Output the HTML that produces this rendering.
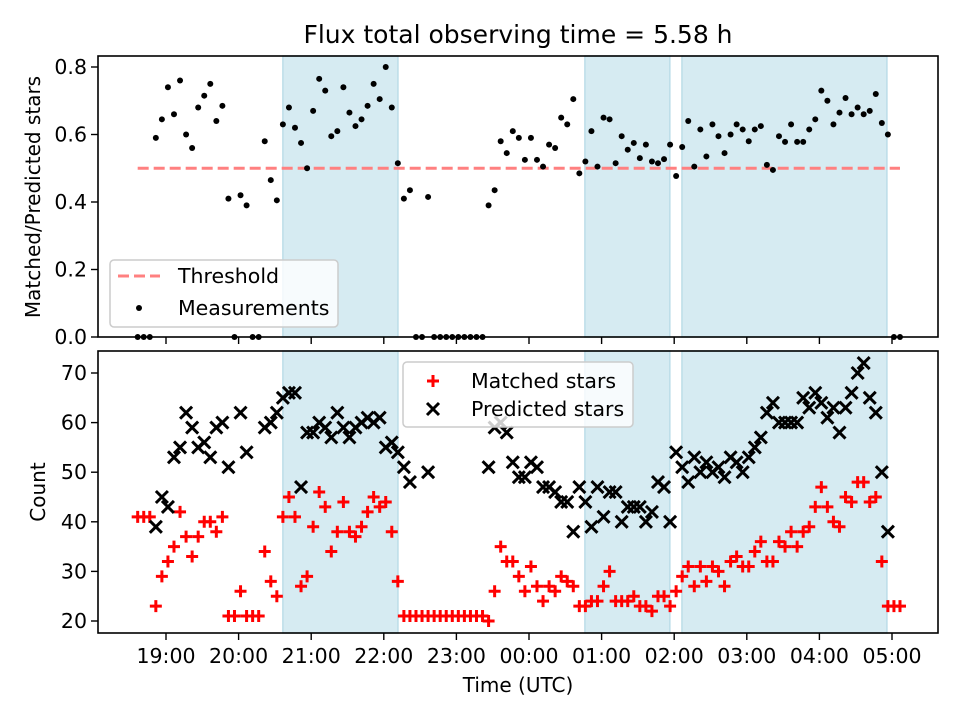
<!DOCTYPE html>
<html><head><meta charset="utf-8"><style>
html,body{margin:0;padding:0;background:#fff;}
svg{display:block;font-family:"DejaVu Sans","Liberation Sans",sans-serif;}
</style></head><body>
<svg id="chart" width="960" height="720" viewBox="0 0 960 720" xmlns="http://www.w3.org/2000/svg">
<rect x="0" y="0" width="960" height="720" fill="#fff"/>
<text x="518" y="43" font-size="25" text-anchor="middle">Flux total observing time = 5.58 h</text>
<g id="top"></g>
<g id="bot"></g>
<text transform="translate(40,197) rotate(-90)" font-size="20" text-anchor="middle">Matched/Predicted stars</text>
<text transform="translate(45,492) rotate(-90)" font-size="20" text-anchor="middle">Count</text>
<text x="518" y="692" font-size="20" text-anchor="middle">Time (UTC)</text>
</svg>
<script>
// time grid: start minutes after 18:00, step minutes
const startMin = 36.6;
const stepMin = 5;
const ratio = [0,0,0,0.59,0.645,0.74,0.66,0.76,0.60,0.56,0.68,0.715,0.75,0.64,0.685,0.41,0,0.42,0.39,0,0,0.58,0.465,0.405,0.63,0.68,0.62,0.575,0.50,0.67,0.765,0.73,0.595,0.61,0.74,0.665,0.625,0.645,0.685,0.75,0.705,0.80,0.68,0.515,0.41,0.435,0,0,0.415,0,0,0,0,0,0,0,0,0,0.39,0.435,0.58,0.545,0.61,0.59,0.525,0.59,0.525,0.505,0.57,0.56,0.65,0.63,0.705,0.485,0.52,0.61,0.505,0.65,0.645,0.515,0.595,0.555,0.575,0.53,0.57,0.52,0.515,0.527,0.57,0.477,0.563,0.64,0.505,0.615,0.535,0.63,0.595,0.545,0.60,0.63,0.615,0.58,0.615,0.625,0.51,0.495,0.595,0.578,0.63,0.578,0.578,0.615,0.645,0.73,0.70,0.63,0.665,0.708,0.66,0.68,0.66,0.67,0.72,0.634,0.60,0,0];
const matched = [41,41,41,23,29,32,35,42,37,33,37,40,40,38,41,21,21,26,21,21,21,34,28,25,41,45,41,27,29,39,46,43,34,38,44,38,37,39,42,45,43,44,38,28,21,21,21,21,21,21,21,21,21,21,21,21,21,21,20,26,35,32,32,29,26,31,27,24,27,26,29,28,27,23,23,24,24,27,30,24,24,24,25,23,23,22,25,25,23,26,29,31,27,31,28,31,30,27,32,33,31,31,34,36,32,32,36,35,38,35,38,39,43,47,43,40,39,45,44,48,48,44,45,32,23,23,23];
const predicted = [null,null,null,39,45,43,53,55,62,59,55,56,53,59,60,51,null,62,54,null,null,59,60,62,65,66,66,47,58,58,60,59,57,62,59,57,59,60,61,60,61,55,56,54,51,48,null,null,50,null,null,null,null,null,null,null,null,null,51,59,60,58,52,49,49,52,51,47,47,46,44,44,38,47,44,39,47,41,46,46,40,43,43,43,40,42,48,47,40,54,51,48,53,50,52,50,51,49,53,52,50,53,55,57,62,64,60,60,60,60,65,63,66,64,61,63,58,63,66,70,72,65,62,50,38,null,null];
const threshold = 0.5;
const spans = [[156.6,251.7],[406.2,476.4],[486.4,655.8]]; // minutes after 18:00
const topTicks = [0,0.2,0.4,0.6,0.8];
const botTicks = [20,30,40,50,60,70];
const xTickHours = [1,2,3,4,5,6,7,8,9,10,11];
const xTickLabels = ["19:00","20:00","21:00","22:00","23:00","00:00","01:00","02:00","03:00","04:00","05:00"];

const NS="http://www.w3.org/2000/svg";
const L=98,R=938;
const X=m=>93.4+72.6*(m/60);
const YT=v=>337-337.5*v;
const YB=v=>621-4.96*(v-20);
const tMin=i=>startMin+i*stepMin;
function mk(tag,attrs,parent){const e=document.createElementNS(NS,tag);for(const k in attrs)e.setAttribute(k,attrs[k]);parent.appendChild(e);return e;}

function axes(g,y0,y1,ticks,Y,fmt,name,showXLabels){
  const ax=mk('g',{},g);
  
  
  spans.forEach((s,k)=>{
    const r=mk('rect',{x:X(s[0]),y:y0,width:X(s[1])-X(s[0]),height:y1-y0,fill:'#d6ebf2',stroke:'#bcdde8','stroke-width':1.5},ax);
    
    
  });
  ticks.forEach(v=>{
    const y=Y(v);
    mk('line',{x1:L-7,x2:L,y1:y,y2:y,stroke:'#000','stroke-width':1.4},ax);
    const t=mk('text',{x:L-11,y:y+7,'font-size':20.5,'text-anchor':'end'},ax);
    t.textContent=fmt(v);
    
    
  });
  xTickHours.forEach((h,k)=>{
    const x=X(h*60);
    mk('line',{x1:x,x2:x,y1:y1,y2:y1+7,stroke:'#000','stroke-width':1.4},ax);
    if(showXLabels){
      const t=mk('text',{x:x,y:y1+30,'font-size':20.5,'text-anchor':'middle'},ax);
      t.textContent=xTickLabels[k];
      
      
    }
  });
  return ax;
}
function frame(g,y0,y1){mk('rect',{x:L,y:y0,width:R-L,height:y1-y0,fill:'none',stroke:'#000','stroke-width':1.6},g);}

// TOP
const gt=document.getElementById('top');
axes(gt,56,337,topTicks,YT,v=>v.toFixed(1),'top',false);
const th=mk('line',{x1:X(tMin(0)),x2:X(tMin(ratio.length-1)),y1:YT(threshold),y2:YT(threshold),stroke:'#ff8080','stroke-width':3,'stroke-dasharray':'11 5'},gt);


ratio.forEach((v,i)=>{
  const c=mk('circle',{cx:X(tMin(i)),cy:YT(v),r:3,fill:'#000'},gt);
  
  
});
frame(gt,56,337);
// top legend
const lg1=mk('g',{},gt);


mk('rect',{x:110,y:260,width:228,height:67,rx:4,fill:'#fff','fill-opacity':0.8,stroke:'#ccc','stroke-width':1.5},lg1);
mk('line',{x1:118,x2:160,y1:276,y2:276,stroke:'#ff8080','stroke-width':3,'stroke-dasharray':'11 5'},lg1);
mk('circle',{cx:139,cy:308,r:3,fill:'#000'},lg1);
const lt1=mk('text',{x:178,y:283,'font-size':20.5},lg1);lt1.textContent='Threshold';


const lt2=mk('text',{x:178,y:315,'font-size':20.5},lg1);lt2.textContent='Measurements';



// BOTTOM
const gb=document.getElementById('bot');
axes(gb,351,633,botTicks,YB,v=>String(v),'bottom',true);
function plus(g,x,y){const p=mk('path',{d:`M${x-6},${y}H${x+6}M${x},${y-6}V${y+6}`,stroke:'#ff0000','stroke-width':3,fill:'none'},g);return p;}
function cross(g,x,y){const p=mk('path',{d:`M${x-6},${y-6}L${x+6},${y+6}M${x-6},${y+6}L${x+6},${y-6}`,stroke:'#000','stroke-width':3,fill:'none'},g);return p;}
matched.forEach((v,i)=>{
  const p=plus(gb,X(tMin(i)),YB(v));
  
  
});
predicted.forEach((v,i)=>{
  if(v===null)return;
  const p=cross(gb,X(tMin(i)),YB(v));
  
  
});
frame(gb,351,633);
const lg2=mk('g',{},gb);


mk('rect',{x:403,y:362,width:230,height:65,rx:4,fill:'#fff','fill-opacity':0.8,stroke:'#ccc','stroke-width':1.5},lg2);
plus(lg2,433,381);
cross(lg2,433,409);
const lt3=mk('text',{x:471,y:388,'font-size':20.5},lg2);lt3.textContent='Matched stars';


const lt4=mk('text',{x:471,y:416,'font-size':20.5},lg2);lt4.textContent='Predicted stars';


</script>
</body></html>
